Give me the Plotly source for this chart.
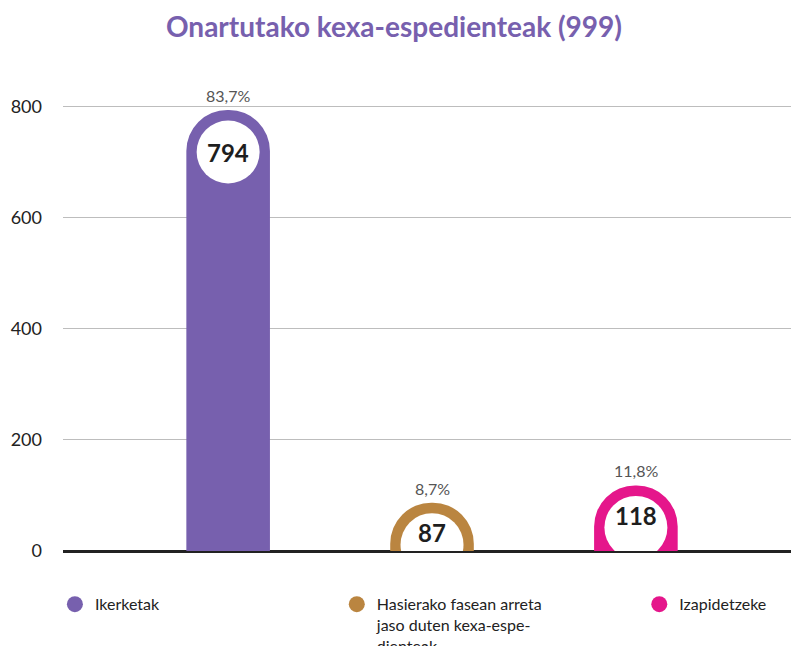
import plotly.graph_objects as go

# datuak
kategoriak = ["Ikerketak", "Hasierako fasean arreta<br>jaso duten kexa-espe-<br>dienteak", "Izapidetzeke"]
balioak = [794, 87, 118]
ehunekoak = ["83,7%", "8,7%", "11,8%"]
koloreak = ["#7760ae", "#ba8540", "#e5168b"]
izenburua = "Onartutako kexa-espedienteak (999)"

xpos = list(range(len(balioak)))
px_unit = 461 / 830  # pixel per unit on y
zirk_y = [v - 42 / px_unit for v in balioak]
leg_x = [-0.011, 0.372, 0.783]

fig = go.Figure()

fig.add_trace(go.Bar(
    x=xpos, y=balioak, width=0.41,
    marker=dict(color=koloreak, cornerradius="50%", line=dict(width=0)),
    showlegend=False, hoverinfo="skip",
))

# barren barruko zirkulu zuriak
fig.add_trace(go.Scatter(
    x=xpos, y=zirk_y, mode="markers",
    marker=dict(size=63, color="white", line=dict(width=0)),
    cliponaxis=True, showlegend=False, hoverinfo="skip",
))

for i, v in enumerate(balioak):
    shift = -42 if v * px_unit > 120 else -30
    fig.add_annotation(x=xpos[i], y=v, yshift=shift, text="<b>%d</b>" % v,
                       showarrow=False, yanchor="middle",
                       font=dict(size=24, color="#1e1e1e", family="Lato"))
    fig.add_annotation(x=xpos[i], y=v, yshift=3, text=ehunekoak[i],
                       showarrow=False, yanchor="bottom",
                       font=dict(size=16, color="#555555", family="Lato"))

# legenda bakoitza bere lekuan
leg_names = ["legend", "legend2", "legend3"]
for k, c, ln in zip(kategoriak, koloreak, leg_names):
    fig.add_trace(go.Scatter(x=[None], y=[None], mode="markers", name=k,
                             legend=ln, marker=dict(size=16, color=c)))

leg_style = dict(xanchor="left", yref="container", y=0.092, yanchor="top",
                 font=dict(size=16, color="#222222"), valign="top",
                 bgcolor="rgba(0,0,0,0)")

# orriak 8px-eko marjina du, beraz irudia 791x638
fig.update_layout(
    width=791, height=638,
    margin=dict(l=55, r=0, t=82, b=95, autoexpand=False),
    plot_bgcolor="white", paper_bgcolor="white",
    font=dict(family="Lato", color="#222222"),
    title=dict(text="<b>" + izenburua + "</b>", x=0.488, xanchor="center",
               yref="container", y=0.970, yanchor="middle",
               font=dict(size=28, color="#7760ae", family="Lato")),
    legend=dict(x=leg_x[0], **leg_style),
    legend2=dict(x=leg_x[1], **leg_style),
    legend3=dict(x=leg_x[2], **leg_style),
)

fig.update_xaxes(range=[-0.81, 2.80], showticklabels=False, showgrid=False,
                 zeroline=False, showline=False)
fig.update_yaxes(range=[0, 830], tickvals=[0, 200, 400, 600, 800],
                 showgrid=True, gridcolor="#bdbdbd", gridwidth=1,
                 zeroline=True, zerolinecolor="#222222", zerolinewidth=2.5,
                 ticklabelstandoff=20, tickfont=dict(size=18, color="#222222"),
                 showline=False)

fig.write_html("out.html")
